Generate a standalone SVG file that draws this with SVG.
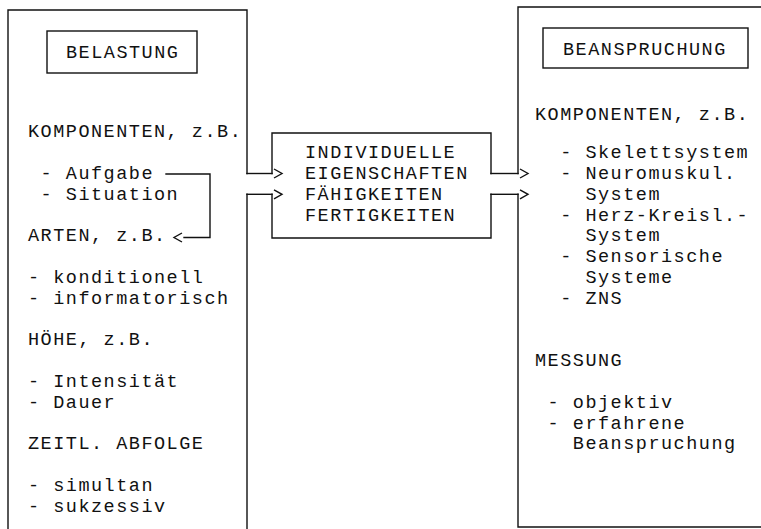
<svg xmlns="http://www.w3.org/2000/svg" width="761" height="529" viewBox="0 0 761 529">
<style>
  .ln { fill: none; stroke: #111; stroke-width: 1.4; stroke-linecap: square; }
  .t { font-family: "Liberation Mono", "DejaVu Sans Mono", monospace; font-size: 18.5px; letter-spacing: 1.5px; fill: #111; }
</style>
<defs>
  <marker id="chev" markerUnits="userSpaceOnUse" viewBox="-12 -6 14 12" refX="-12" refY="0" markerWidth="14" markerHeight="12" orient="auto" overflow="visible">
    <polyline points="-10,-4.5 -2,0 -10,4.5" fill="none" stroke="#111" stroke-width="1.4"/>
  </marker>
</defs>
<rect width="761" height="529" fill="#fff"/>

<g id="belastung">
  <path class="ln" d="M8,529 V10 H247 V173.5 M247,194.3 V529"/>
  <rect class="ln" x="47" y="31" width="150" height="42"/>
  <text class="t" x="66" y="58">BELASTUNG</text>
  <text class="t" x="28" y="137.4">KOMPONENTEN, z.B.</text>
  <text class="t" x="40.6" y="179">- Aufgabe</text>
  <text class="t" x="40.6" y="199.8">- Situation</text>
  <text class="t" x="28" y="241.4">ARTEN, z.B.</text>
  <text class="t" x="28" y="283">- konditionell</text>
  <text class="t" x="28" y="303.8">- informatorisch</text>
  <text class="t" x="28" y="345.4">HÖHE, z.B.</text>
  <text class="t" x="28" y="387">- Intensität</text>
  <text class="t" x="28" y="407.8">- Dauer</text>
  <text class="t" x="28" y="449.4">ZEITL. ABFOLGE</text>
  <text class="t" x="28" y="491">- simultan</text>
  <text class="t" x="28" y="511.8">- sukzessiv</text>
</g>

<g id="individuell">
  <path class="ln" d="M272,173.5 V133 H491 V173.5 M272,194.3 V238 H491 V194.3"/>
  <text class="t" x="305" y="158.2">INDIVIDUELLE</text>
  <text class="t" x="305" y="179">EIGENSCHAFTEN</text>
  <text class="t" x="305" y="199.8">FÄHIGKEITEN</text>
  <text class="t" x="305" y="220.6">FERTIGKEITEN</text>
</g>

<g id="beanspruchung">
  <path class="ln" d="M761,7 H518 V173.5 M518,194.3 V527 H761"/>
  <rect class="ln" x="543" y="28" width="205" height="40"/>
  <text class="t" x="563" y="54.5">BEANSPRUCHUNG</text>
  <text class="t" x="535" y="120">KOMPONENTEN, z.B.</text>
  <text class="t" x="560.2" y="158.2">- Skelettsystem</text>
  <text class="t" x="560.2" y="179">- Neuromuskul.</text>
  <text class="t" x="585.4" y="199.8">System</text>
  <text class="t" x="560.2" y="220.6">- Herz-Kreisl.-</text>
  <text class="t" x="585.4" y="241.4">System</text>
  <text class="t" x="560.2" y="262.2">- Sensorische</text>
  <text class="t" x="585.4" y="283">Systeme</text>
  <text class="t" x="560.2" y="303.8">- ZNS</text>
  <text class="t" x="535" y="366.2">MESSUNG</text>
  <text class="t" x="547.6" y="407.8">- objektiv</text>
  <text class="t" x="547.6" y="428.6">- erfahrene</text>
  <text class="t" x="572.8" y="449.4">Beanspruchung</text>
</g>

<g id="connectors">
  <path class="ln" d="M166,174 H210 V237.5 H184" marker-end="url(#chev)"/>
  <path class="ln" d="M247,173.5 H272" marker-end="url(#chev)"/>
  <path class="ln" d="M247,194.3 H272" marker-end="url(#chev)"/>
  <path class="ln" d="M491,173.5 H518" marker-end="url(#chev)"/>
  <path class="ln" d="M491,194.3 H518" marker-end="url(#chev)"/>
</g>
</svg>
